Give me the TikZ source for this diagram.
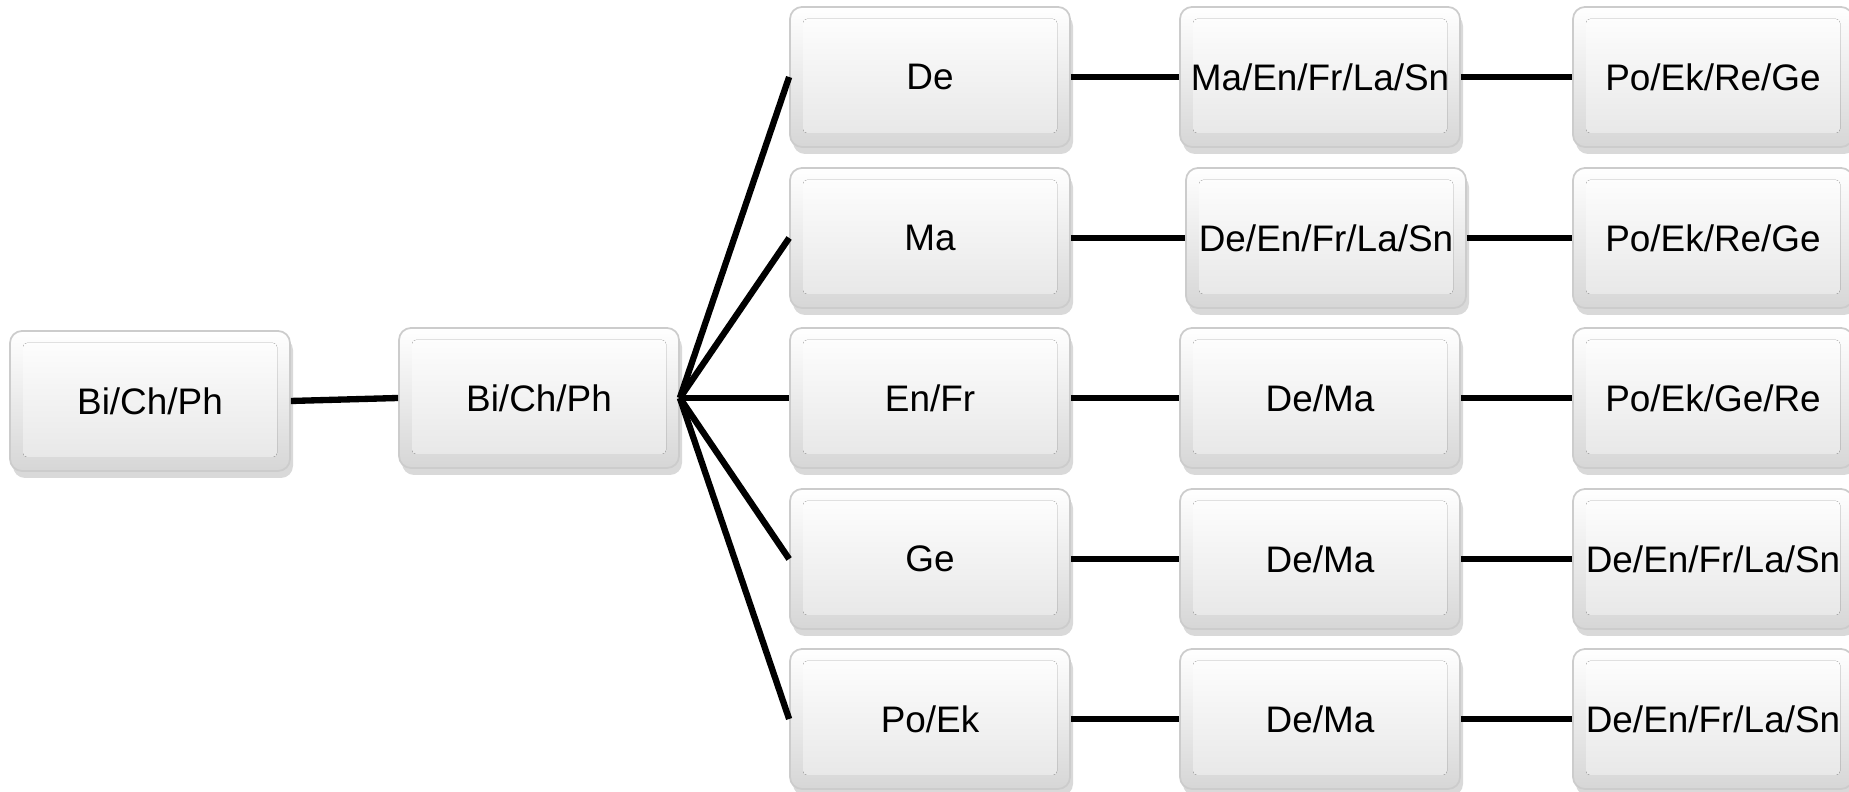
\documentclass[tikz,border=0pt]{standalone}
\usepackage{fontspec}
\setmainfont{Liberation Sans}
\usepackage{tikz}
\usetikzlibrary{shadows,calc}

\begin{document}
\begin{tikzpicture}[x=1cm,y=1cm,
    tile/.style={draw=gray!40, line width=0.5pt, rounded corners=1.2mm,
        minimum width=2.8cm, minimum height=1.4cm, inner sep=0pt,
        top color=white, bottom color=gray!32,
        drop shadow={shadow xshift=0.3mm, shadow yshift=-0.7mm, opacity=0.3},
        font=\fontsize{10.5}{12}\selectfont,
        path picture={
            \fill[rounded corners=0.4mm, top color=white, bottom color=gray!20]
                ($(path picture bounding box.south west)+(0.13,0.14)$) rectangle
                ($(path picture bounding box.north east)+(-0.13,-0.12)$);
        }},
    link/.style={line width=1.8pt}]
        %--- Arguments ----
        \def \xRoot {1.50} % root column
        \def \xHub {5.39} % hub column
        \def \xA {9.30} % first branch column
        \def \xB {13.20} % second branch column
        \def \xC {17.13} % last column (cut by the page edge)
        %--- Page ---
        \useasboundingbox (0,0) rectangle (18.49,-7.92);
        %--- Boxes ---
        \node [tile] (root) at (\xRoot,-4.01) {Bi/Ch/Ph};
        \node [tile] (hub) at (\xHub,-3.98) {Bi/Ch/Ph};
        % first branch
        \node [tile] (de) at (\xA,-0.77) {De};
        \node [tile] (ma) at (\xA,-2.38) {Ma};
        \node [tile] (enfr) at (\xA,-3.98) {En/Fr};
        \node [tile] (ge) at (\xA,-5.59) {Ge};
        \node [tile] (poek) at (\xA,-7.19) {Po/Ek};
        % second branch
        \node [tile] (deB) at (\xB,-0.77) {Ma/En/Fr/La/Sn};
        \node [tile] (maB) at (\xB+0.06,-2.38) {De/En/Fr/La/Sn};
        \node [tile] (enfrB) at (\xB,-3.98) {De/Ma};
        \node [tile] (geB) at (\xB,-5.59) {De/Ma};
        \node [tile] (poekB) at (\xB,-7.19) {De/Ma};
        % last column
        \node [tile] (deC) at (\xC,-0.77) {Po/Ek/Re/Ge};
        \node [tile] (maC) at (\xC,-2.38) {Po/Ek/Re/Ge};
        \node [tile] (enfrC) at (\xC,-3.98) {Po/Ek/Ge/Re};
        \node [tile] (geC) at (\xC,-5.59) {De/En/Fr/La/Sn};
        \node [tile] (poekC) at (\xC,-7.19) {De/En/Fr/La/Sn};
        %--- Lines ---
        \draw [link] (root.east) -- (hub.west);
        % fan out of the hub
        \draw [link] (hub.east) -- (de.west);
        \draw [link] (hub.east) -- (ma.west);
        \draw [link] (hub.east) -- (enfr.west);
        \draw [link] (hub.east) -- (ge.west);
        \draw [link] (hub.east) -- (poek.west);
        % rows
        \draw [link] (de.east) -- (deB.west);
        \draw [link] (ma.east) -- (maB.west);
        \draw [link] (enfr.east) -- (enfrB.west);
        \draw [link] (ge.east) -- (geB.west);
        \draw [link] (poek.east) -- (poekB.west);
        \draw [link] (deB.east) -- (deC.west);
        \draw [link] (maB.east) -- (maC.west);
        \draw [link] (enfrB.east) -- (enfrC.west);
        \draw [link] (geB.east) -- (geC.west);
        \draw [link] (poekB.east) -- (poekC.west);
\end{tikzpicture}
\end{document}
